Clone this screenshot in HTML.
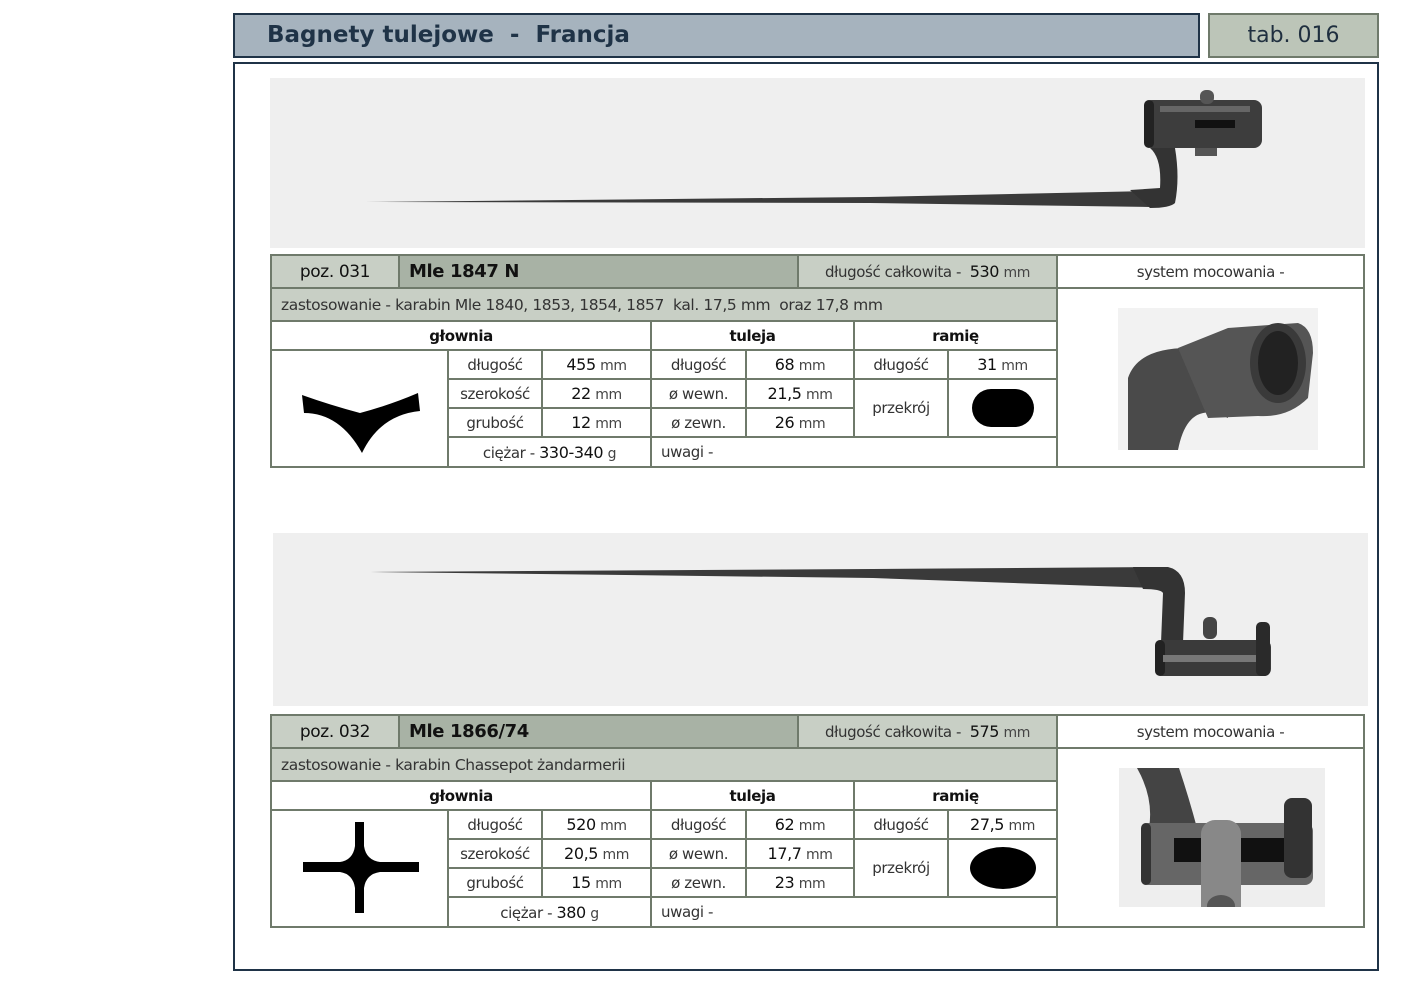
<!DOCTYPE html>
<html><head><meta charset="utf-8"><style>
body{margin:0;width:1403px;height:992px;background:#fff;position:relative;overflow:hidden;font-family:"DejaVu Sans","Liberation Sans",sans-serif;color:#222}
.a{position:absolute;box-sizing:border-box}
.c{position:absolute;box-sizing:border-box;border:2px solid #6f7a6b;display:flex;align-items:center;justify-content:center;font-size:15px;color:#333;white-space:nowrap;letter-spacing:-0.4px}
.c>span{display:inline-block}
.g{background:#c8cfc5}.d{background:#a8b2a5}
.n{font-size:16px;color:#111}
.m{font-size:14px;color:#444}
</style></head><body>
<div class="a" style="left:233px;top:13px;width:967px;height:45px;background:#a6b3be;border:2px solid #1f3347;font-weight:bold;font-size:23px;color:#1f3347;padding:7px 0 0 32px;white-space:pre">Bagnety tulejowe  -  Francja</div>
<div class="a" style="left:1208px;top:13px;width:171px;height:45px;background:#bcc5b8;border:2px solid #6f7a6b;font-size:22px;color:#1f2f3f;text-align:center;padding-top:8px">tab. 016</div>
<div class="a" style="left:233px;top:62px;width:1146px;height:909px;border:2px solid #1f3347"></div>

<!-- photo 1 -->
<svg class="a" style="left:270px;top:78px" width="1095" height="170">
<rect width="1095" height="170" fill="#efefef"/>
<polygon points="95,124 600,119 880,113 890,115 880,129 600,125" fill="#3a3a3a"/>
<path d="M860,112 L890,110 Q892,80 880,70 L905,70 Q910,100 905,125 Q900,130 880,130 Z" fill="#333"/>
<rect x="874" y="22" width="118" height="48" rx="8" fill="#3d3d3d"/>
<rect x="874" y="22" width="10" height="48" rx="5" fill="#222"/>
<rect x="925" y="42" width="40" height="8" fill="#111"/>
<rect x="930" y="12" width="14" height="14" rx="6" fill="#555"/>
<rect x="925" y="70" width="22" height="8" fill="#555"/>
<rect x="890" y="28" width="90" height="6" fill="#666"/>
</svg>

<!-- photo 2 -->
<svg class="a" style="left:273px;top:533px" width="1095" height="173">
<rect width="1095" height="173" fill="#efefef"/>
<polygon points="97,39 600,36 880,34 895,40 880,55 600,45" fill="#3a3a3a"/>
<path d="M860,34 L895,34 Q912,38 912,60 L910,110 L888,110 L890,60 Q888,56 870,56 Z" fill="#333"/>
<rect x="882" y="107" width="116" height="36" rx="7" fill="#3a3a3a"/>
<rect x="882" y="107" width="10" height="36" rx="5" fill="#222"/>
<rect x="890" y="122" width="100" height="7" fill="#777"/>
<rect x="930" y="84" width="14" height="22" rx="6" fill="#444"/>
<rect x="983" y="89" width="14" height="54" rx="5" fill="#2a2a2a"/>
</svg>

<!-- TABLE 1 -->
<div class="c g" style="left:270px;top:254px;width:130px;height:35px;font-size:17px;color:#111">poz. 031</div>
<div class="c d" style="left:398px;top:254px;width:401px;height:35px;justify-content:flex-start;padding-left:9px;font-size:18px;font-weight:bold;color:#111">Mle 1847 N</div>
<div class="c g" style="left:797px;top:254px;width:261px;height:35px"><span>długość całkowita -&nbsp; <span class="n">530</span> <span class="m">mm</span></span></div>
<div class="c" style="left:1056px;top:254px;width:309px;height:35px">system mocowania -</div>
<div class="c g" style="left:270px;top:287px;width:788px;height:35px;justify-content:flex-start;padding-left:9px;white-space:pre;font-size:15.5px">zastosowanie - karabin Mle 1840, 1853, 1854, 1857  kal. 17,5 mm  oraz 17,8 mm</div>
<div class="c" style="left:1056px;top:287px;width:309px;height:181px"></div>
<svg class="a" style="left:1118px;top:308px" width="200" height="142">
<rect width="200" height="142" fill="#f2f2f2"/>
<path d="M10,142 L10,70 Q20,40 70,40 L110,45 L110,110 Q70,90 60,142 Z" fill="#4a4a4a"/>
<path d="M60,40 L110,20 L180,15 Q195,20 195,45 L190,90 Q170,110 140,108 L90,110 Z" fill="#555"/>
<ellipse cx="160" cy="55" rx="28" ry="40" fill="#3a3a3a"/>
<ellipse cx="160" cy="55" rx="20" ry="32" fill="#222"/>
</svg>
<div class="c" style="left:270px;top:320px;width:382px;height:31px;font-weight:bold;color:#111">głownia</div>
<div class="c" style="left:650px;top:320px;width:205px;height:31px;font-weight:bold;color:#111">tuleja</div>
<div class="c" style="left:853px;top:320px;width:205px;height:31px;font-weight:bold;color:#111">ramię</div>
<div class="c" style="left:270px;top:349px;width:179px;height:119px"></div>
<svg class="a" style="left:300px;top:385px" width="122" height="70"><path d="M2,10 Q30,20 60,28 Q90,20 118,8 L120,26 Q80,30 62,68 Q40,28 4,28 Z" fill="#000"/></svg>
<div class="c" style="left:447px;top:349px;width:96px;height:31px">długość</div>
<div class="c" style="left:541px;top:349px;width:111px;height:31px"><span><span class="n">455</span> <span class="m">mm</span></span></div>
<div class="c" style="left:447px;top:378px;width:96px;height:31px">szerokość</div>
<div class="c" style="left:541px;top:378px;width:111px;height:31px"><span><span class="n">22</span> <span class="m">mm</span></span></div>
<div class="c" style="left:447px;top:407px;width:96px;height:31px">grubość</div>
<div class="c" style="left:541px;top:407px;width:111px;height:31px"><span><span class="n">12</span> <span class="m">mm</span></span></div>
<div class="c" style="left:447px;top:436px;width:205px;height:32px"><span>ciężar - <span class="n">330-340</span> <span class="m">g</span></span></div>
<div class="c" style="left:650px;top:349px;width:97px;height:31px">długość</div>
<div class="c" style="left:745px;top:349px;width:110px;height:31px"><span><span class="n">68</span> <span class="m">mm</span></span></div>
<div class="c" style="left:650px;top:378px;width:97px;height:31px">ø wewn.</div>
<div class="c" style="left:745px;top:378px;width:110px;height:31px"><span><span class="n">21,5</span> <span class="m">mm</span></span></div>
<div class="c" style="left:650px;top:407px;width:97px;height:31px">ø zewn.</div>
<div class="c" style="left:745px;top:407px;width:110px;height:31px"><span><span class="n">26</span> <span class="m">mm</span></span></div>
<div class="c" style="left:853px;top:349px;width:96px;height:31px">długość</div>
<div class="c" style="left:947px;top:349px;width:111px;height:31px"><span><span class="n">31</span> <span class="m">mm</span></span></div>
<div class="c" style="left:853px;top:378px;width:96px;height:60px">przekrój</div>
<div class="c" style="left:947px;top:378px;width:111px;height:60px"><div style="width:62px;height:38px;border-radius:19px;background:#000"></div></div>
<div class="c" style="left:650px;top:436px;width:408px;height:32px;justify-content:flex-start;padding-left:9px">uwagi -</div>

<!-- TABLE 2 -->
<div class="c g" style="left:270px;top:714px;width:130px;height:35px;font-size:17px;color:#111">poz. 032</div>
<div class="c d" style="left:398px;top:714px;width:401px;height:35px;justify-content:flex-start;padding-left:9px;font-size:18px;font-weight:bold;color:#111">Mle 1866/74</div>
<div class="c g" style="left:797px;top:714px;width:261px;height:35px"><span>długość całkowita -&nbsp; <span class="n">575</span> <span class="m">mm</span></span></div>
<div class="c" style="left:1056px;top:714px;width:309px;height:35px">system mocowania -</div>
<div class="c g" style="left:270px;top:747px;width:788px;height:35px;justify-content:flex-start;padding-left:9px;font-size:15.5px">zastosowanie - karabin Chassepot żandarmerii</div>
<div class="c" style="left:1056px;top:747px;width:309px;height:181px"></div>
<svg class="a" style="left:1119px;top:768px" width="206" height="139">
<rect width="206" height="139" fill="#eeeeee"/>
<path d="M18,0 L60,0 Q70,30 78,60 L30,60 Q35,30 18,0 Z" fill="#444"/>
<rect x="22" y="55" width="172" height="62" rx="8" fill="#666"/>
<rect x="22" y="55" width="10" height="62" rx="5" fill="#333"/>
<rect x="55" y="70" width="120" height="24" fill="#111"/>
<rect x="82" y="52" width="40" height="100" rx="14" fill="#888"/>
<ellipse cx="102" cy="138" rx="14" ry="11" fill="#555"/>
<rect x="165" y="30" width="28" height="80" rx="8" fill="#333"/>
</svg>
<div class="c" style="left:270px;top:780px;width:382px;height:31px;font-weight:bold;color:#111">głownia</div>
<div class="c" style="left:650px;top:780px;width:205px;height:31px;font-weight:bold;color:#111">tuleja</div>
<div class="c" style="left:853px;top:780px;width:205px;height:31px;font-weight:bold;color:#111">ramię</div>
<div class="c" style="left:270px;top:809px;width:179px;height:119px"></div>
<svg class="a" style="left:300px;top:818px" width="122" height="98"><path d="M55,4 H64 V28 Q66,42 80,44 H119 V54 H80 Q66,56 64,70 V95 H55 V70 Q53,56 40,54 H3 V44 H40 Q53,42 55,28 Z" fill="#000"/></svg>
<div class="c" style="left:447px;top:809px;width:96px;height:31px">długość</div>
<div class="c" style="left:541px;top:809px;width:111px;height:31px"><span><span class="n">520</span> <span class="m">mm</span></span></div>
<div class="c" style="left:447px;top:838px;width:96px;height:31px">szerokość</div>
<div class="c" style="left:541px;top:838px;width:111px;height:31px"><span><span class="n">20,5</span> <span class="m">mm</span></span></div>
<div class="c" style="left:447px;top:867px;width:96px;height:31px">grubość</div>
<div class="c" style="left:541px;top:867px;width:111px;height:31px"><span><span class="n">15</span> <span class="m">mm</span></span></div>
<div class="c" style="left:447px;top:896px;width:205px;height:32px"><span>ciężar - <span class="n">380</span> <span class="m">g</span></span></div>
<div class="c" style="left:650px;top:809px;width:97px;height:31px">długość</div>
<div class="c" style="left:745px;top:809px;width:110px;height:31px"><span><span class="n">62</span> <span class="m">mm</span></span></div>
<div class="c" style="left:650px;top:838px;width:97px;height:31px">ø wewn.</div>
<div class="c" style="left:745px;top:838px;width:110px;height:31px"><span><span class="n">17,7</span> <span class="m">mm</span></span></div>
<div class="c" style="left:650px;top:867px;width:97px;height:31px">ø zewn.</div>
<div class="c" style="left:745px;top:867px;width:110px;height:31px"><span><span class="n">23</span> <span class="m">mm</span></span></div>
<div class="c" style="left:853px;top:809px;width:96px;height:31px">długość</div>
<div class="c" style="left:947px;top:809px;width:111px;height:31px"><span><span class="n">27,5</span> <span class="m">mm</span></span></div>
<div class="c" style="left:853px;top:838px;width:96px;height:60px">przekrój</div>
<div class="c" style="left:947px;top:838px;width:111px;height:60px"><div style="width:66px;height:42px;border-radius:50%;background:#000"></div></div>
<div class="c" style="left:650px;top:896px;width:408px;height:32px;justify-content:flex-start;padding-left:9px">uwagi -</div>
</body></html>
